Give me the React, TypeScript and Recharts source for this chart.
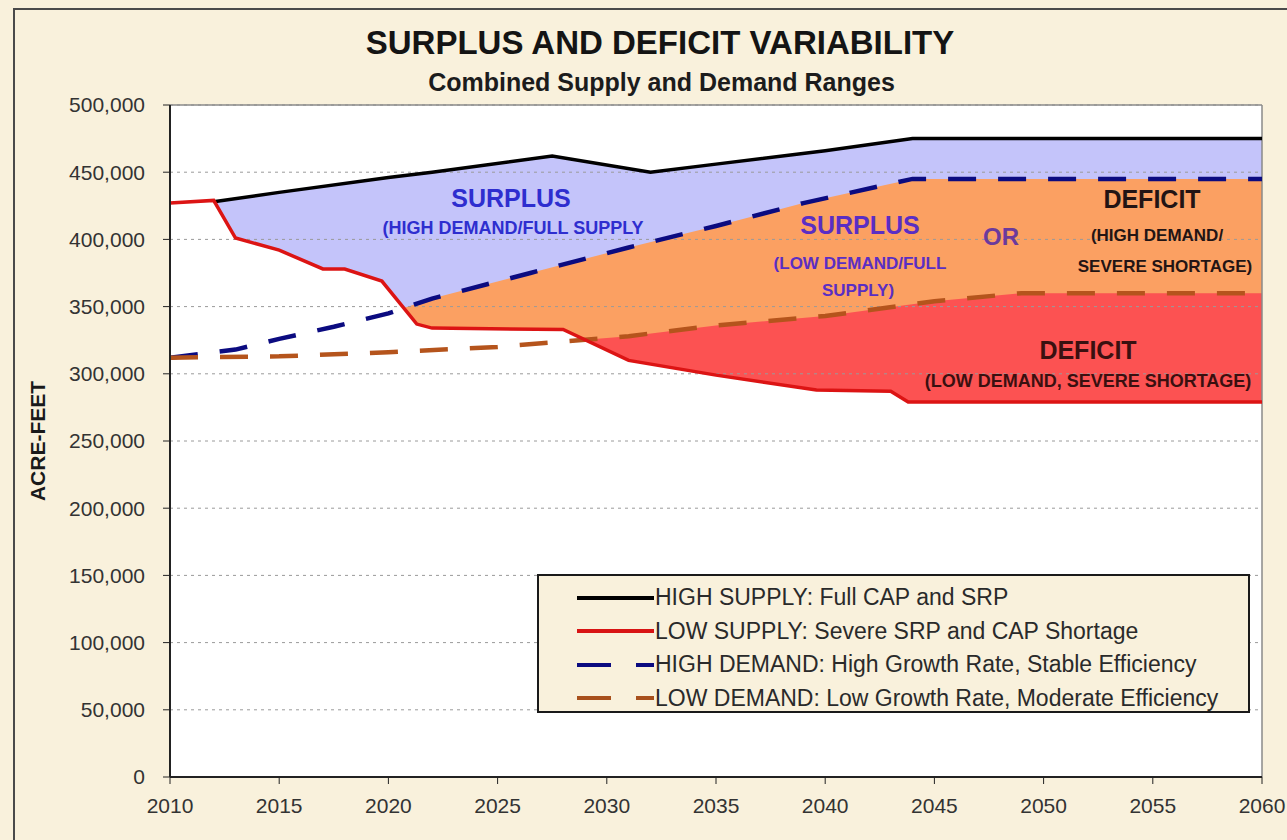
import {
  Area,
  CartesianGrid,
  ComposedChart,
  Legend,
  Line,
  ReferenceLine,
  XAxis,
  YAxis,
} from 'recharts'

const FONT = '"Liberation Sans", Arial, sans-serif'

// acre-feet by year
const highSupplyYears = [2012, 2015, 2020, 2022, 2027.5, 2032, 2035, 2040, 2044, 2060]
const highSupplyValues = [428000, 435000, 446000, 450000, 462000, 450000, 456000, 466000, 475000, 475000]

const lowSupplyYears = [2010, 2012, 2013, 2015, 2017, 2018, 2019.7, 2021.3, 2022, 2028, 2031, 2035, 2039.6, 2043, 2043.8, 2060]
const lowSupplyValues = [427000, 429000, 401000, 392000, 378000, 378000, 369000, 337000, 334000, 333000, 310000, 299000, 288000, 287000, 279000, 279000]

const highDemandYears = [2010, 2013, 2015, 2017.5, 2020, 2022, 2026.5, 2031, 2035, 2039, 2044, 2060]
const highDemandValues = [312000, 318000, 326000, 335000, 345000, 356000, 375000, 394000, 410000, 427000, 445000, 445000]

const lowDemandYears = [2010, 2015, 2020, 2025, 2028, 2031, 2035, 2040, 2045, 2049, 2060]
const lowDemandValues = [312000, 313000, 316000, 320000, 324000, 328000, 336000, 343000, 354000, 360000, 360000]

const xTicks = [2010, 2015, 2020, 2025, 2030, 2035, 2040, 2045, 2050, 2055, 2060]
const yTicks = [0, 50000, 100000, 150000, 200000, 250000, 300000, 350000, 400000, 450000, 500000]

const legendItems = [
  { label: 'HIGH SUPPLY: Full CAP and SRP', color: '#000000', dashed: false },
  { label: 'LOW SUPPLY: Severe SRP and CAP Shortage', color: '#d81414', dashed: false },
  { label: 'HIGH DEMAND: High Growth Rate, Stable Efficiency', color: '#0b0b80', dashed: true },
  { label: 'LOW DEMAND: Low Growth Rate, Moderate Efficiency', color: '#a8501c', dashed: true },
]

const notes = [
  { text: 'SURPLUS', x: 511, y: 198, size: 25, color: '#2e2ecf' },
  { text: '(HIGH DEMAND/FULL SUPPLY', x: 513, y: 228, size: 18, color: '#2e2ecf' },
  { text: 'SURPLUS', x: 860, y: 225, size: 25, color: '#5a2ec4' },
  { text: '(LOW DEMAND/FULL', x: 860, y: 263, size: 17, color: '#5a2ec4' },
  { text: 'SUPPLY)', x: 858, y: 290, size: 17, color: '#5a2ec4' },
  { text: 'OR', x: 1001, y: 237, size: 24, color: '#6b3a9c' },
  { text: 'DEFICIT', x: 1152, y: 199, size: 25, color: '#231414' },
  { text: '(HIGH DEMAND/', x: 1157, y: 235, size: 17, color: '#231414' },
  { text: 'SEVERE SHORTAGE)', x: 1165, y: 266, size: 17, color: '#231414' },
  { text: 'DEFICIT', x: 1088, y: 350, size: 25, color: '#3a1010' },
  { text: '(LOW DEMAND, SEVERE SHORTAGE)', x: 1088, y: 381, size: 18, color: '#3a1010' },
]

const pick = (ys: number[], vs: number[], y: number) => {
  const i = ys.indexOf(y)
  return i >= 0 ? vs[i] : null
}

const allYears = Array.from(
  new Set([...highSupplyYears, ...lowSupplyYears, ...highDemandYears, ...lowDemandYears]),
).sort((a, b) => a - b)

const data = allYears.map((year) => ({
  year,
  highSupply: pick(highSupplyYears, highSupplyValues, year),
  lowSupply: pick(lowSupplyYears, lowSupplyValues, year),
  highDemand: pick(highDemandYears, highDemandValues, year),
  lowDemand: pick(lowDemandYears, lowDemandValues, year),
}))

function LegendBox() {
  return (
    <div
      style={{
        width: 713,
        height: 139,
        boxSizing: 'border-box',
        border: '2px solid #1a1a1a',
        background: '#f9f1dc',
        paddingTop: 5,
        fontFamily: FONT,
      }}
    >
      {legendItems.map((it) => (
        <div key={it.label} style={{ display: 'flex', alignItems: 'center', height: 33.5 }}>
          <svg width={78} height={10} style={{ marginLeft: 38 }}>
            <line
              x1={0}
              y1={5}
              x2={77}
              y2={5}
              stroke={it.color}
              strokeWidth={4}
              strokeDasharray={it.dashed ? '34 25' : undefined}
            />
          </svg>
          <span style={{ fontSize: 23, color: '#2a2a2a', whiteSpace: 'nowrap' }}>{it.label}</span>
        </div>
      ))}
    </div>
  )
}

export default function App() {
  return (
    <div
      style={{
        position: 'absolute',
        left: 0,
        top: 0,
        width: 1287,
        height: 840,
        overflow: 'hidden',
        background: '#f9f1dc',
        fontFamily: FONT,
      }}
    >
      <div
        style={{
          position: 'absolute',
          left: 13,
          top: 8,
          width: 1400,
          height: 1000,
          border: '2px solid #4a4a4a',
        }}
      />
      <div
        style={{
          position: 'absolute',
          left: 0,
          width: 1320,
          top: 24,
          textAlign: 'center',
          fontSize: 33,
          fontWeight: 'bold',
          color: '#141414',
        }}
      >
        SURPLUS AND DEFICIT VARIABILITY
      </div>
      <div
        style={{
          position: 'absolute',
          left: 0,
          width: 1323,
          top: 68,
          textAlign: 'center',
          fontSize: 25,
          fontWeight: 'bold',
          color: '#1c1c1c',
        }}
      >
        Combined Supply and Demand Ranges
      </div>

      <div style={{ position: 'absolute', left: 0, top: 0 }}>
        <ComposedChart
          width={1287}
          height={840}
          data={data}
          margin={{ top: 105, right: 25, bottom: 0, left: 0 }}
        >
          <CartesianGrid fill="#ffffff" horizontal={false} vertical={false} />
          <XAxis
            dataKey="year"
            type="number"
            domain={[2010, 2060]}
            ticks={xTicks}
            allowDataOverflow
            height={63}
            tickSize={7}
            tickMargin={14}
            axisLine={{ stroke: '#222', strokeWidth: 2 }}
            tickLine={{ stroke: '#222' }}
            tick={{ fontSize: 21, fill: '#333', fontFamily: FONT }}
          />
          <YAxis
            type="number"
            domain={[0, 500000]}
            ticks={yTicks}
            allowDataOverflow
            width={170}
            tickSize={7}
            tickMargin={18}
            axisLine={{ stroke: '#222', strokeWidth: 2 }}
            tickLine={{ stroke: '#222' }}
            tick={{ fontSize: 21, fill: '#333', fontFamily: FONT }}
            tickFormatter={(v: number) => v.toLocaleString('en-US')}
            label={{
              value: 'ACRE-FEET',
              angle: -90,
              position: 'insideLeft',
              offset: 38,
              style: { textAnchor: 'middle', fontSize: 21, fontWeight: 'bold', fill: '#1a1a1a', fontFamily: FONT },
            }}
          />
          <Area
            type="linear"
            dataKey="highSupply"
            connectNulls
            stroke="none"
            fill="#c4c4fa"
            fillOpacity={1}
            dot={false}
            activeDot={false}
            isAnimationActive={false}
          />
          <Area
            type="linear"
            dataKey="highDemand"
            connectNulls
            stroke="none"
            fill="#fba062"
            fillOpacity={1}
            dot={false}
            activeDot={false}
            isAnimationActive={false}
          />
          <Area
            type="linear"
            dataKey="lowDemand"
            connectNulls
            stroke="none"
            fill="#fc5252"
            fillOpacity={1}
            dot={false}
            activeDot={false}
            isAnimationActive={false}
          />
          <Area
            type="linear"
            dataKey="lowSupply"
            connectNulls
            stroke="none"
            fill="#ffffff"
            fillOpacity={1}
            dot={false}
            activeDot={false}
            isAnimationActive={false}
          />
          <CartesianGrid
            vertical={false}
            stroke="#9a9a9a"
            strokeDasharray="3 4"
            zIndex={200}
          />
          <ReferenceLine y={500000} stroke="#8a8a8a" strokeWidth={1.5} />
          <ReferenceLine x={2060} stroke="#8a8a8a" strokeWidth={1.5} />
          <Line
            type="linear"
            dataKey="highDemand"
            connectNulls
            stroke="#0b0b80"
            strokeWidth={4.5}
            strokeDasharray="28 22"
            dot={false}
            activeDot={false}
            isAnimationActive={false}
          />
          <Line
            type="linear"
            dataKey="lowDemand"
            connectNulls
            stroke="#b5541c"
            strokeWidth={4.5}
            strokeDasharray="28 22"
            dot={false}
            activeDot={false}
            isAnimationActive={false}
          />
          <Line
            type="linear"
            dataKey="highSupply"
            connectNulls
            stroke="#000000"
            strokeWidth={3.5}
            dot={false}
            activeDot={false}
            isAnimationActive={false}
          />
          <Line
            type="linear"
            dataKey="lowSupply"
            connectNulls
            stroke="#dc1414"
            strokeWidth={3.5}
            dot={false}
            activeDot={false}
            isAnimationActive={false}
          />
          <Legend
            layout="horizontal"
            align="center"
            verticalAlign="middle"
            wrapperStyle={{ left: 537, top: 574, width: 713, height: 139 }}
            content={() => <LegendBox />}
          />
        </ComposedChart>
      </div>

      {notes.map((n, i) => (
        <div
          key={i}
          style={{
            position: 'absolute',
            left: n.x,
            top: n.y,
            transform: 'translate(-50%, -50%)',
            fontSize: n.size,
            fontWeight: 'bold',
            color: n.color,
            whiteSpace: 'nowrap',
            lineHeight: 1,
          }}
        >
          {n.text}
        </div>
      ))}
    </div>
  )
}
